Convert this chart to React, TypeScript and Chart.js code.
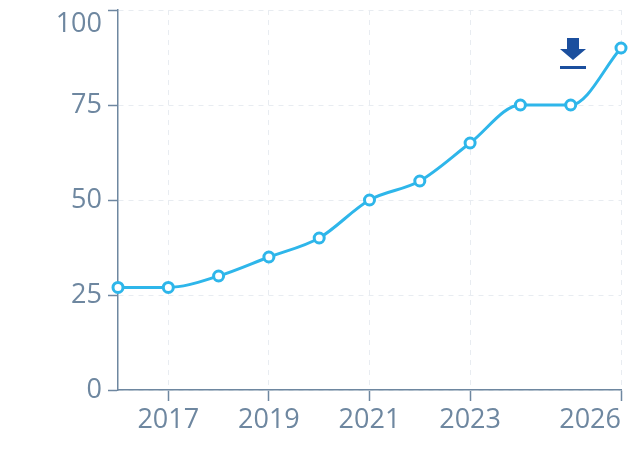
import { useEffect, useRef } from 'react';
import { Chart, registerables } from 'chart.js';

Chart.register(...registerables);

const years = [2016, 2017, 2018, 2019, 2020, 2021, 2022, 2023, 2024, 2025, 2026];
const values = [27, 27, 30, 35, 40, 50, 55, 65, 75, 75, 90];
const xTicks = [2016, 2017, 2019, 2021, 2023, 2026];
const yTicks = [0, 25, 50, 75, 100];

const axisColor = '#6e87a0';
const gridColor = '#e8ecf1';
const lineColor = '#2eb6ea';
const iconColor = '#1b4f9e';
const fontFamily = '"Open Sans", "Noto Sans", sans-serif';

// little "save as image" icon in the top right corner
const downloadIcon = {
  id: 'downloadIcon',
  afterDraw(chart: Chart) {
    const ctx = chart.ctx;
    ctx.save();
    ctx.fillStyle = iconColor;
    ctx.beginPath();
    ctx.moveTo(567, 38);
    ctx.lineTo(579, 38);
    ctx.lineTo(579, 49);
    ctx.lineTo(586, 49);
    ctx.lineTo(573, 60);
    ctx.lineTo(560, 49);
    ctx.lineTo(567, 49);
    ctx.closePath();
    ctx.fill();
    ctx.fillRect(560, 66, 26, 3);
    ctx.restore();
  },
};

export default function App() {
  const canvasRef = useRef<HTMLCanvasElement>(null);

  useEffect(() => {
    if (!canvasRef.current) return;

    const chart = new Chart(canvasRef.current, {
      type: 'line',
      data: {
        datasets: [
          {
            data: years.map((y, i) => ({ x: y, y: values[i] })),
            borderColor: lineColor,
            borderWidth: 3,
            pointBackgroundColor: '#ffffff',
            pointBorderColor: lineColor,
            pointBorderWidth: 3,
            pointRadius: 5,
            cubicInterpolationMode: 'monotone',
            clip: false,
          },
        ],
      },
      options: {
        responsive: true,
        maintainAspectRatio: false,
        animation: false,
        layout: { padding: { top: 10, right: 9, left: 0, bottom: 0 } },
        plugins: {
          legend: { display: false },
          tooltip: { enabled: false },
        },
        scales: {
          x: {
            type: 'linear',
            min: 2016,
            max: 2026,
            afterBuildTicks: (scale) => {
              scale.ticks = xTicks.map((v) => ({ value: v }));
            },
            afterFit: (scale) => {
              scale.height = 64;
              scale.paddingLeft = 0;
              scale.paddingRight = 0;
            },
            grid: {
              color: (c) => (c.tick && c.tick.value === 2016 ? 'transparent' : gridColor),
              tickColor: (c) => (c.tick && c.tick.value === 2016 ? 'transparent' : axisColor),
              tickLength: 11,
              tickWidth: 1.5,
            },
            border: { color: axisColor, width: 1.5, dash: [5, 5] },
            ticks: {
              align: 'inner',
              padding: 3,
              maxRotation: 0,
              autoSkip: false,
              color: axisColor,
              font: { family: fontFamily, size: 27 },
              callback: (v) => (v === 2016 ? '' : String(v)),
            },
          },
          y: {
            min: 0,
            max: 100,
            afterBuildTicks: (scale) => {
              scale.ticks = yTicks.map((v) => ({ value: v }));
            },
            afterFit: (scale) => {
              scale.width = 118;
              scale.paddingTop = 0;
              scale.paddingBottom = 0;
            },
            grid: {
              color: gridColor,
              tickColor: axisColor,
              tickLength: 10,
              tickWidth: 1.5,
            },
            border: { color: axisColor, width: 1.5, dash: [5, 5] },
            ticks: {
              padding: 6,
              color: axisColor,
              // top label sits just under its tick, as in the reference
              font: (c) =>
                c.tick && c.tick.value === 100
                  ? { family: fontFamily, size: 27, lineHeight: 28 / 27 }
                  : { family: fontFamily, size: 27 },
              callback: (v) => (v === 100 ? ['', '100'] : String(v)),
            },
          },
        },
      },
      plugins: [downloadIcon],
    });

    return () => {
      chart.destroy();
    };
  }, []);

  return (
    <div style={{ position: 'absolute', left: 0, top: 0, width: 630, height: 454 }}>
      <canvas ref={canvasRef}></canvas>
    </div>
  );
}
